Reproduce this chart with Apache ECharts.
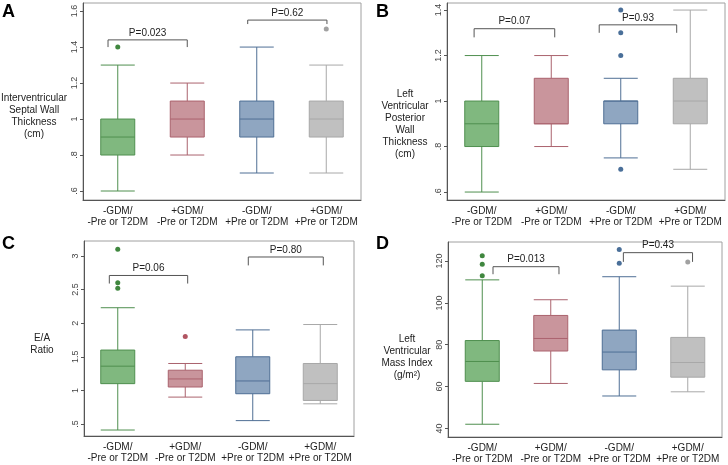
<!DOCTYPE html>
<html>
<head>
<meta charset="utf-8">
<script src="https://cdn.jsdelivr.net/npm/echarts@6/dist/echarts.min.js"></script>
<style>html,body{margin:0;padding:0;background:#fff}#c{width:728px;height:465px}</style>
</head>
<body>
<div id="c"></div>
<script>
const categories = ['-GDM/\n-Pre or T2DM', '+GDM/\n-Pre or T2DM', '-GDM/\n+Pre or T2DM', '+GDM/\n+Pre or T2DM'];

// [min, Q1, median, Q3, max]
const boxA = [[0.6, 0.8, 0.9, 1.0, 1.3], [0.8, 0.9, 1.0, 1.1, 1.2], [0.7, 0.9, 1.0, 1.1, 1.4], [0.7, 0.9, 1.0, 1.1, 1.3]];
const outA = [[0, 1.4], [3, 1.5]];
const brA = [[-0.14, 1.0, 1.44, 1.40], [1.87, 3.01, 1.55, 1.528]];
const pA = ['P=0.023', 'P=0.62'];
const ticksA = [0.6, 0.8, 1.0, 1.2, 1.4, 1.6];

const boxB = [[0.6, 0.8, 0.9, 1.0, 1.2], [0.8, 0.9, 0.9, 1.1, 1.2], [0.75, 0.9, 1.0, 1.0, 1.1], [0.7, 0.9, 1.0, 1.1, 1.4]];
const outB = [[2, 0.7], [2, 1.2], [2, 1.3], [2, 1.4]];
const brB = [[-0.11, 1.05, 1.318, 1.28], [1.69, 2.805, 1.335, 1.30]];
const pB = ['P=0.07', 'P=0.93'];
const ticksB = [0.6, 0.8, 1.0, 1.2, 1.4];

const boxC = [[0.41, 1.1, 1.36, 1.6, 2.23], [0.9, 1.05, 1.17, 1.3, 1.4], [0.55, 0.95, 1.14, 1.5, 1.9], [0.8, 0.85, 1.1, 1.4, 1.98]];
const outC = [[0, 2.52], [0, 2.6], [0, 3.1], [1, 1.8]];
const brC = [[-0.125, 1.036, 2.71, 2.59], [1.934, 3.045, 2.985, 2.86]];
const pC = ['P=0.06', 'P=0.80'];
const ticksC = [0.5, 1, 1.5, 2, 2.5, 3];

const boxD = [[42, 62.5, 72, 82, 111], [61.5, 77, 83, 94, 101.5], [55.5, 68, 76.5, 87, 112.5], [57.5, 64.5, 71.5, 83.5, 108]];
const outD = [[0, 113], [0, 118.5], [0, 122.5], [2, 119], [2, 125.5], [3, 119.5]];
const brD = [[0.157, 1.12, 117.3, 113.7], [2.06, 3.07, 124, 119.6]];
const pD = ['P=0.013', 'P=0.43'];
const ticksD = [40, 60, 80, 100, 120];

const fillColors = ['#80b87f', '#c9959c', '#8fa6c1', '#c0c0c0'];
const lineColors = ['#4f8f4f', '#ab636e', '#4f6f95', '#a8a8a8'];
const dotColors = ['#10690f', '#9e2b3b', '#1d4b80', '#8a8a8a'];

const FONT = 'Liberation Sans, Arial, sans-serif';

const panels = [
  {box: boxA, out: outA, br: brA, p: pA, ticks: ticksA, min: 0.55, max: 1.645, grid: {left: 83, width: 278, top: 3, height: 197}},
  {box: boxB, out: outB, br: brB, p: pB, ticks: ticksB, min: 0.565, max: 1.431, grid: {left: 447, width: 278, top: 3, height: 197}},
  {box: boxC, out: outC, br: brC, p: pC, ticks: ticksC, min: 0.321, max: 3.223, grid: {left: 84, width: 270, top: 241, height: 195}},
  {box: boxD, out: outD, br: brD, p: pD, ticks: ticksD, min: 35.9, max: 129.1, grid: {left: 448, width: 274, top: 242, height: 197}}
];

function fmt(v) {
  let s = String(Math.round(v * 1000) / 1000);
  if (s.startsWith('0.')) s = s.slice(1);
  return s;
}

const grid = [], xAxis = [], yAxis = [], series = [];
panels.forEach((pn, i) => {
  grid.push(Object.assign({show: true, borderColor: '#a0a0a0', borderWidth: 1, containLabel: false}, pn.grid));
  xAxis.push({
    type: 'category', gridIndex: i, data: categories,
    axisLine: {onZero: false, lineStyle: {color: '#555'}}, axisTick: {show: false},
    axisLabel: {color: '#222', fontSize: 10, fontFamily: FONT, lineHeight: 11, margin: 6, interval: 0}
  });
  xAxis.push({type: 'value', gridIndex: i, min: -0.5, max: 3.5, show: false});
  yAxis.push({
    type: 'value', gridIndex: i, min: pn.min, max: pn.max,
    splitLine: {show: false},
    axisLine: {show: true, onZero: false, lineStyle: {color: '#555'}},
    axisTick: {show: true, length: 3, lineStyle: {color: '#555'}, customValues: pn.ticks},
    axisLabel: {rotate: 90, color: '#444', fontSize: 9, fontFamily: FONT, margin: 4, customValues: pn.ticks, formatter: fmt}
  });
  series.push({
    type: 'boxplot', xAxisIndex: 2 * i, yAxisIndex: i, boxWidth: [34, 34],
    data: pn.box.map((b, k) => ({value: b, itemStyle: {color: fillColors[k], borderColor: lineColors[k], borderWidth: 1}})),
    emphasis: {disabled: true}
  });
  series.push({
    type: 'scatter', xAxisIndex: 2 * i, yAxisIndex: i, symbolSize: 5,
    data: pn.out.map(o => ({value: o, itemStyle: {color: dotColors[o[0]]}}))
  });
  const labels = pn.p;
  series.push({
    type: 'custom', xAxisIndex: 2 * i + 1, yAxisIndex: i, clip: false,
    encode: {x: [0, 1], y: [2, 3]},
    data: pn.br,
    renderItem: function (params, api) {
      const x1 = api.value(0), x2 = api.value(1), y = api.value(2), yd = api.value(3);
      const a = api.coord([x1, yd]), b = api.coord([x1, y]), c = api.coord([x2, y]), d = api.coord([x2, yd]);
      return {
        type: 'group',
        children: [
          {type: 'polyline', shape: {points: [a, b, c, d]}, style: {stroke: '#555', fill: null, lineWidth: 1}},
          {type: 'text', x: (b[0] + c[0]) / 2, y: b[1] - 7,
           style: {text: labels[params.dataIndex], textAlign: 'center', textVerticalAlign: 'middle',
                   fontSize: 10, fontFamily: FONT, fill: '#222'}}
        ]
      };
    }
  });
});

const axisTitles = [
  {text: 'Interventricular\nSeptal Wall\nThickness\n(cm)', x: 34, y: 92},
  {text: 'Left\nVentricular\nPosterior\nWall\nThickness\n(cm)', x: 405, y: 88},
  {text: 'E/A\nRatio', x: 42, y: 332},
  {text: 'Left\nVentricular\nMass Index\n(g/m²)', x: 407, y: 333}
];
const letters = [
  {text: 'A', x: 2, y: 3}, {text: 'B', x: 376, y: 3}, {text: 'C', x: 2, y: 235}, {text: 'D', x: 376, y: 235}
];
const graphic = [];
axisTitles.forEach(t => graphic.push({
  type: 'text', x: t.x, y: t.y, silent: true,
  style: {text: t.text, textAlign: 'center', textVerticalAlign: 'top', fontSize: 10, lineHeight: 12, fontFamily: FONT, fill: '#222'}
}));
letters.forEach(t => graphic.push({
  type: 'text', x: t.x, y: t.y, silent: true,
  style: {text: t.text, fontSize: 18, fontWeight: 'bold', fontFamily: FONT, fill: '#000'}
}));

const chart = echarts.init(document.getElementById('c'), null, {renderer: 'canvas'});
chart.setOption({animation: false, grid, xAxis, yAxis, series, graphic});
</script>
</body>
</html>
